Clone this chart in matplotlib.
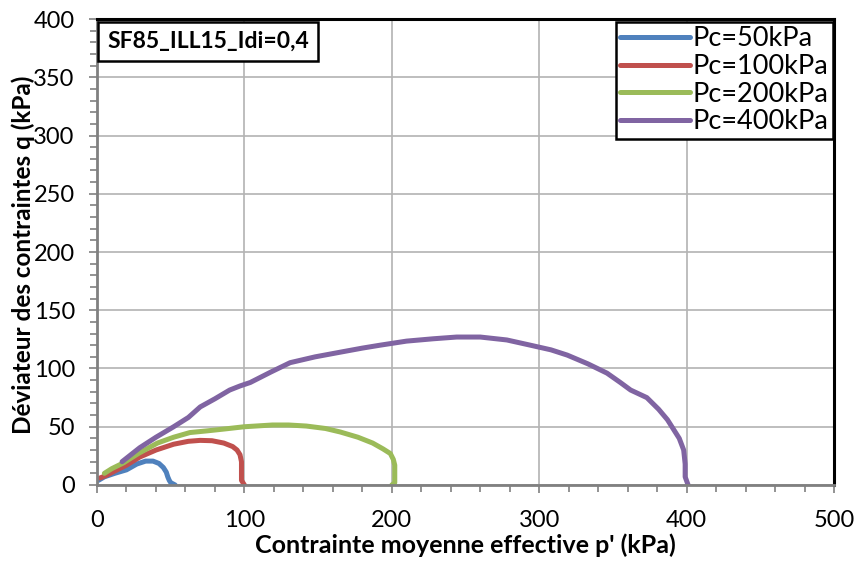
import matplotlib.pyplot as plt
from matplotlib.ticker import MultipleLocator

plt.rcParams['font.family'] = ['Lato', 'DejaVu Sans']

# Chemins de contraintes (p', q) en kPa
p_50 = [1, 5, 12, 20, 27, 33, 38, 42, 45, 47, 48, 49, 50, 53]
q_50 = [4, 7, 10, 13, 18, 20.5, 20.5, 18.5, 15, 11, 7, 4, 2, 0]

p_100 = [2, 6, 12, 20, 29, 40, 52, 62, 70, 78, 86, 92, 95, 97, 98, 98, 98, 100]
q_100 = [6, 8, 12, 17, 24, 30, 35, 37.5, 38.3, 38, 36, 33, 30, 26, 20, 10, 4, 0]

p_200 = [5, 10, 18, 28, 41, 52, 63, 75, 86, 100, 119, 130, 142, 155, 165, 177,
         187, 194, 199, 201, 202, 202, 202, 200]
q_200 = [10, 14, 19, 27, 36, 41, 45, 46.5, 48, 50, 51.5, 51.5, 50.6, 48.5, 45.5, 41,
         36, 31, 27, 22, 17, 8, 2, 0]

p_400 = [17, 23, 29, 40, 52, 62, 70, 80, 90, 97, 104, 118, 131, 148, 165, 180, 192,
         210, 228, 244, 260, 278, 294, 308, 319, 333, 346, 355, 362, 373, 381, 387,
         391, 395, 398, 399, 399, 401]
q_400 = [20, 26, 32, 41, 50, 58, 67, 74, 81.5, 85, 88, 97, 105, 110, 114, 117.5, 120,
         123.5, 125.5, 127, 127, 124.5, 120, 116, 111.5, 104, 96, 88, 81.5, 75, 65,
         56, 48, 40, 30, 18, 7, 0]

labels = ['Pc=50kPa', 'Pc=100kPa', 'Pc=200kPa', 'Pc=400kPa']
colors = ['#4F81BD', '#C0504D', '#9BBB59', '#8064A2']

fig = plt.figure(figsize=(8.57, 5.61), dpi=100)
ax = fig.add_axes([0.1132, 0.1355, 0.86, 0.8306])

for p, q, lab, c in zip([p_50, p_100, p_200, p_400], [q_50, q_100, q_200, q_400], labels, colors):
    ax.plot(p, q, color=c, lw=3.6, label=lab, solid_capstyle='round', solid_joinstyle='round')

ax.set_xlim(0, 500)
ax.set_ylim(0, 400)
ax.xaxis.set_major_locator(MultipleLocator(100))
ax.xaxis.set_minor_locator(MultipleLocator(20))
ax.yaxis.set_major_locator(MultipleLocator(50))
ax.yaxis.set_minor_locator(MultipleLocator(10))
ax.grid(True, which='major', color='#B3B3B3', lw=1.2)
ax.set_axisbelow(True)

ax.tick_params(which='both', direction='out', color='#808080', width=1.2, labelsize=17)
ax.tick_params(axis='x', which='major', length=6, pad=12)
ax.tick_params(axis='y', which='major', length=6, pad=10)
ax.tick_params(which='minor', length=5)

for s in ['left', 'bottom']:
    ax.spines[s].set_color('#808080')
    ax.spines[s].set_linewidth(2)
for s in ['top', 'right']:
    ax.spines[s].set_color('black')
    ax.spines[s].set_linewidth(2.2)

ax.set_xlabel("Contrainte moyenne effective p' (kPa)", fontsize=18, fontweight='bold', labelpad=2)
ax.set_ylabel('Déviateur des contraintes q (kPa)', fontsize=17.5, fontweight='bold')
ax.yaxis.set_label_coords(-0.084, 0.495)

ax.text(0.0136, 0.975, 'SF85_ILL15_Idi=0,4', transform=ax.transAxes, fontsize=16.5,
        fontweight='bold', va='top', ha='left',
        bbox=dict(boxstyle='square,pad=0.4', facecolor='white', edgecolor='black', lw=1.8))

leg = ax.legend(loc='upper right', fontsize=19.5, frameon=True, fancybox=False,
                borderpad=0.15, labelspacing=0.1, handlelength=2.6, handletextpad=0.1,
                borderaxespad=0.0, bbox_to_anchor=(0.9985, 0.993))
leg.get_frame().set_edgecolor('black')
leg.get_frame().set_linewidth(1.8)
leg.get_frame().set_alpha(1)

fig.savefig('out.png', dpi=100)
